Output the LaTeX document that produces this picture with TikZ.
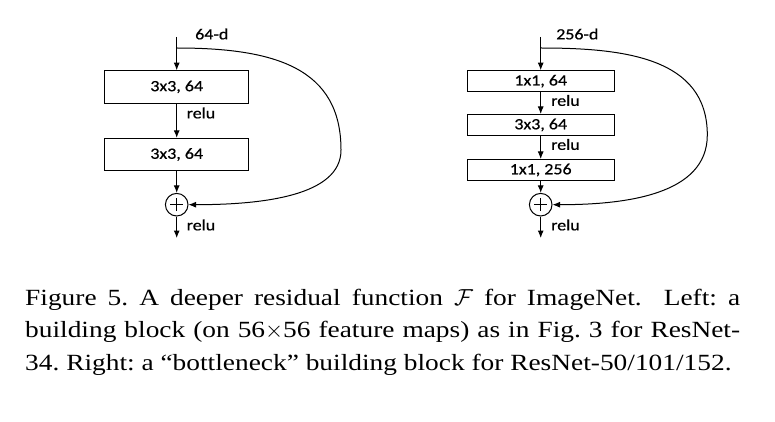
\RequirePackage{fix-cm}
\documentclass[tikz,border=0pt]{standalone}
\usepackage{fontspec}
\usetikzlibrary{arrows.meta}
\newfontfamily\capfont{Liberation Serif}[FakeStretch=1.18]
\newfontfamily\dfont{Carlito}[FakeStretch=1.15,FakeBold=0.6]
\frenchspacing
\tikzset{
  convbox/.style={draw, line width=1pt, inner sep=0pt, font=\dfont\fontsize{15.6}{18}\selectfont},
  lbl/.style={inner sep=0pt, font=\dfont\fontsize{15.6}{18}\selectfont},
  sumnode/.style={draw, circle, line width=1pt, minimum size=22.6pt, inner sep=0pt},
  flow/.style={line width=1pt, -{Latex[length=7.5pt,width=6pt]}},
  capline/.style={inner sep=0pt, anchor=base west, font=\capfont\fontsize{23.2}{32.5}\selectfont}
}
\begin{document}
\begin{tikzpicture}[x=1pt,y=-1pt]
\useasboundingbox (0,0) rectangle (775,422);
% ---------- left block ----------
\coordinate (inL) at (176.7,37);
\coordinate (spL) at (176.7,48);
\coordinate (rtL) at (341,150);
\node[lbl, anchor=west] (dL) at (195,34) {64-d};
\node[convbox, minimum width=144pt, minimum height=32.3pt] (L1) at (176.7,86.9) {3x3, 64};
\node[convbox, minimum width=144pt, minimum height=32.3pt] (L2) at (176.7,154.5) {3x3, 64};
\node[sumnode] (sL) at (176.7,204.7) {};
\draw[line width=1pt] ([xshift=-6.5pt]sL.center) -- ([xshift=6.5pt]sL.center);
\draw[line width=1pt] ([yshift=-6.5pt]sL.center) -- ([yshift=6.5pt]sL.center);
\coordinate (outL) at (176.7,238);
\node[lbl, anchor=west] (r1L) at (186.5,113) {relu};
\node[lbl, anchor=west] (r2L) at (186.5,225) {relu};
\draw[flow] (inL) -- (L1.north);
\draw[flow] (L1.south) -- (L2.north);
\draw[flow] (L2.south) -- (sL.north);
\draw[flow] (sL.south) -- (outL);
\draw[flow] (spL) .. controls (275,48) and (341,68) .. (rtL)
  .. controls (341,196) and (262,204.7) .. (sL.east);
% ---------- right block ----------
\coordinate (inR) at (540.7,37);
\coordinate (spR) at (540.7,48);
\coordinate (rtR) at (707.3,135);
\node[lbl, anchor=west] (dR) at (556,34) {256-d};
\node[convbox, minimum width=147pt, minimum height=21pt] (R1) at (540.7,81.2) {1x1, 64};
\node[convbox, minimum width=147pt, minimum height=21pt] (R2) at (540.7,125) {3x3, 64};
\node[convbox, minimum width=147pt, minimum height=21pt] (R3) at (540.7,170) {1x1, 256};
\node[sumnode] (sR) at (540.7,204.7) {};
\draw[line width=1pt] ([xshift=-6.5pt]sR.center) -- ([xshift=6.5pt]sR.center);
\draw[line width=1pt] ([yshift=-6.5pt]sR.center) -- ([yshift=6.5pt]sR.center);
\coordinate (outR) at (540.7,238);
\node[lbl, anchor=west] (r1R) at (551,100.5) {relu};
\node[lbl, anchor=west] (r2R) at (551,144.5) {relu};
\node[lbl, anchor=west] (r3R) at (551,225) {relu};
\draw[flow] (inR) -- (R1.north);
\draw[flow] (R1.south) -- (R2.north);
\draw[flow] (R2.south) -- (R3.north);
\draw[flow] (R3.south) -- (sR.north);
\draw[flow] (sR.south) -- (outR);
\draw[flow] (spR) .. controls (625,48) and (707.3,58) .. (rtR)
  .. controls (707.3,195) and (625,204.7) .. (sR.east);
% ---------- caption ----------
\node[capline] (c1) at (25,305) {\makebox[715pt][s]{Figure 5. A deeper residual function $\mathcal{F}$ for ImageNet.\ \ Left: a}};
\node[capline] (c2) at (25,337.5) {\makebox[715pt][s]{building block (on 56$\times$56 feature maps) as in Fig. 3 for ResNet-}};
\node[capline] (c3) at (25,370) {34. Right: a “bottleneck” building block for ResNet-50/101/152.};
\end{tikzpicture}
\end{document}
